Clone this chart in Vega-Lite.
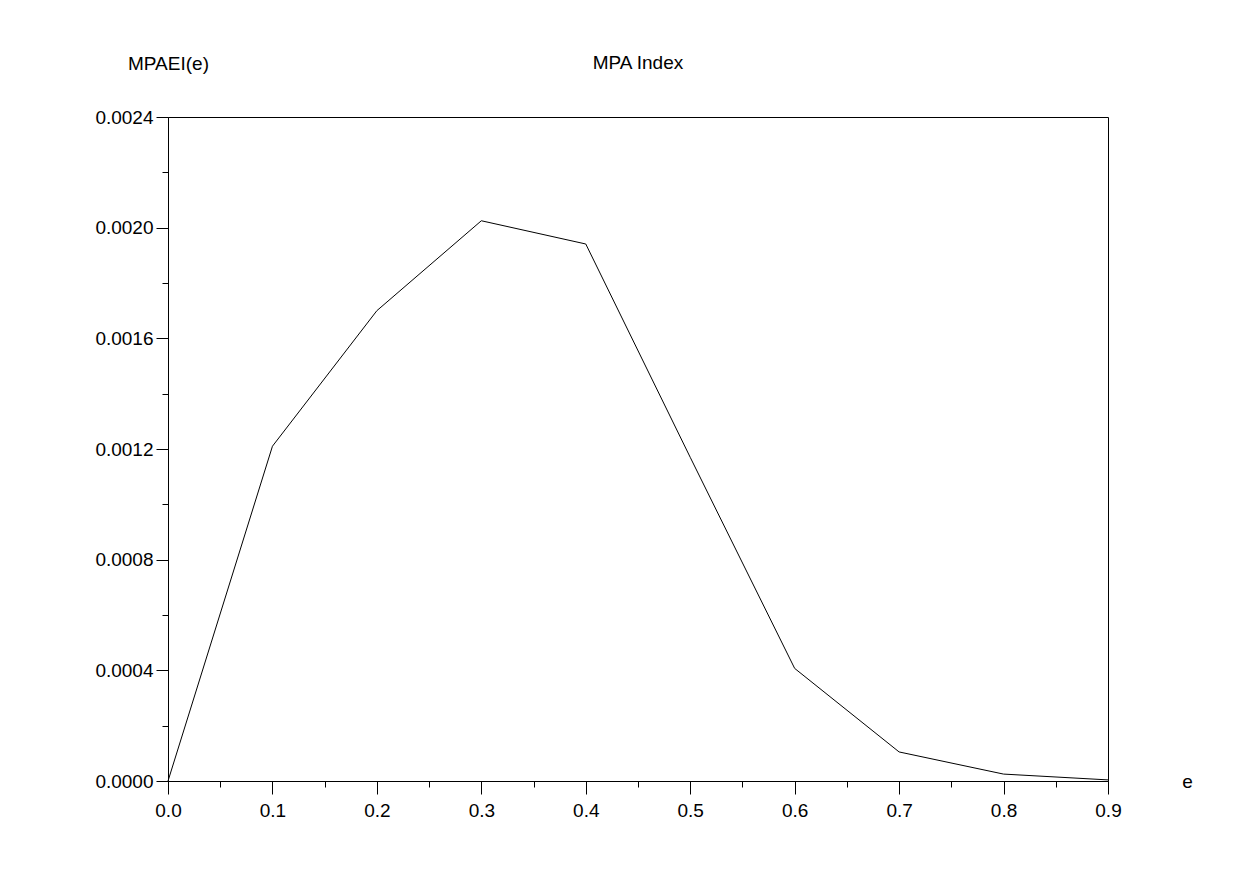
{
  "$schema": "https://vega.github.io/schema/vega-lite/v6.json",
  "autosize": "none",
  "width": 940,
  "height": 664,
  "padding": {"left": 168, "top": 117, "right": 138, "bottom": 105},
  "background": "white",
  "config": {
    "font": "Liberation Sans",
    "view": {"stroke": "black", "strokeWidth": 1}
  },
  "title": {
    "text": "MPA Index",
    "fontSize": 19,
    "fontWeight": "normal",
    "color": "black",
    "anchor": "middle",
    "frame": "group",
    "baseline": "alphabetic",
    "offset": -34
  },
  "data": {
    "values": [
      {"e": 0.0, "mpaei": 0.0},
      {"e": 0.1, "mpaei": 0.00121},
      {"e": 0.2, "mpaei": 0.00170},
      {"e": 0.3, "mpaei": 0.002025},
      {"e": 0.4, "mpaei": 0.001941},
      {"e": 0.5, "mpaei": 0.00117},
      {"e": 0.6, "mpaei": 0.000407},
      {"e": 0.7, "mpaei": 0.000105},
      {"e": 0.8, "mpaei": 0.000025},
      {"e": 0.9, "mpaei": 0.000004}
    ]
  },
  "mark": {"type": "line", "color": "black", "strokeWidth": 1},
  "encoding": {
    "x": {
      "field": "e",
      "type": "quantitative",
      "scale": {"domain": [0, 0.9], "nice": false, "zero": false},
      "axis": {
        "title": "e",
        "titleFontSize": 19,
        "titleFontWeight": "normal",
        "titleColor": "black",
        "titleX": 1019,
        "titleY": 6,
        "titleAlign": "center",
        "titleBaseline": "alphabetic",
        "titleAnchor": null,
        "values": [0, 0.05, 0.1, 0.15, 0.2, 0.25, 0.3, 0.35, 0.4, 0.45, 0.5, 0.55, 0.6, 0.65, 0.7, 0.75, 0.8, 0.85, 0.9],
        "labelExpr": "round(datum.value / 0.05) % 2 == 0 ? format(datum.value, '.1f') : ''",
        "tickSize": {"condition": {"test": "round(datum.value / 0.05) % 2 == 0", "value": 13}, "value": 6},
        "labelPadding": 7,
        "labelFontSize": 19,
        "labelColor": "black",
        "labelFlush": false,
        "labelOverlap": false,
        "grid": false,
        "domainColor": "black",
        "tickColor": "black",
        "domainWidth": 1,
        "tickWidth": 1
      }
    },
    "y": {
      "field": "mpaei",
      "type": "quantitative",
      "scale": {"domain": [0, 0.0024], "nice": false},
      "axis": {
        "title": "MPAEI(e)",
        "titleFontSize": 19,
        "titleFontWeight": "normal",
        "titleColor": "black",
        "titleAngle": 0,
        "titleX": 0,
        "titleY": -48,
        "titleAlign": "center",
        "titleBaseline": "alphabetic",
        "titleAnchor": null,
        "values": [0, 0.0002, 0.0004, 0.0006, 0.0008, 0.001, 0.0012, 0.0014, 0.0016, 0.0018, 0.002, 0.0022, 0.0024],
        "labelExpr": "round(datum.value / 0.0002) % 2 == 0 ? format(datum.value, '.4f') : ''",
        "tickSize": {"condition": {"test": "round(datum.value / 0.0002) % 2 == 0", "value": 12}, "value": 6},
        "labelPadding": 3,
        "labelFontSize": 19,
        "labelColor": "black",
        "labelFlush": false,
        "labelOverlap": false,
        "grid": false,
        "domainColor": "black",
        "tickColor": "black",
        "domainWidth": 1,
        "tickWidth": 1
      }
    }
  }
}
